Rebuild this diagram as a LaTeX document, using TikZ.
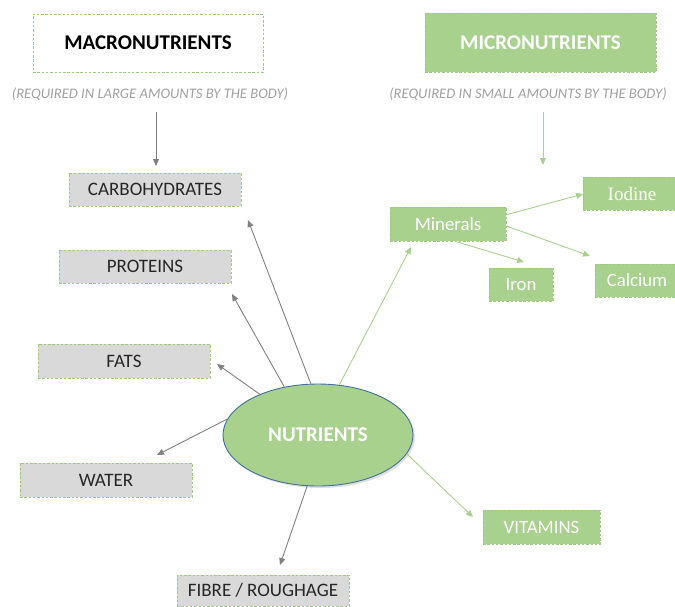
\documentclass[tikz,border=0pt]{standalone}
\usepackage{fontspec}
\setmainfont{Carlito}
\newfontfamily\serifface{Liberation Serif}
\usetikzlibrary{arrows.meta,shapes.geometric,shadows}
\definecolor{leaf}{HTML}{A9D18E}
\definecolor{leafline}{HTML}{9CCB7E}
\definecolor{greybox}{HTML}{D9D9D9}
\definecolor{greyline}{HTML}{808080}
\definecolor{subtext}{HTML}{A0A0A0}
\definecolor{rim}{HTML}{41719C}
\tikzset{
  dashborder/.style={draw=leafline, dash pattern=on 2.5pt off 1.8pt, line width=0.8pt},
  headbox/.style={dashborder, minimum width=230pt, minimum height=58pt, inner sep=0pt,
    font=\fontsize{21}{23}\selectfont\bfseries},
  foodbox/.style={dashborder, fill=greybox, minimum width=172pt, minimum height=33pt,
    inner sep=0pt, text=black!85, font=\fontsize{19}{21}\selectfont},
  minibox/.style={dashborder, fill=leaf, minimum height=33pt, inner sep=0pt,
    text=white, font=\fontsize{18.8}{21}\selectfont},
  subnote/.style={text=subtext, font=\fontsize{14.6}{16}\selectfont\itshape},
  greyarrow/.style={draw=greyline, line width=0.9pt, -{Triangle[length=7pt,width=6pt]}},
  greenarrow/.style={draw=leaf, line width=0.9pt, -{Triangle[length=7pt,width=6pt]}},
}
\begin{document}
\begin{tikzpicture}[x=1pt,y=-1pt]
\clip (0,0) rectangle (675,606);

% headings
\node[headbox, fill=white] (macro) at (148,43) {MACRONUTRIENTS};
\node[headbox, fill=leaf, text=white, minimum width=231pt, minimum height=59pt] (micro) at (540.5,42.5) {MICRONUTRIENTS};
\node[subnote] (subL) at (150,94) {(REQUIRED IN LARGE AMOUNTS BY THE BODY)};
\node[subnote] (subR) at (528,94) {(REQUIRED IN SMALL AMOUNTS BY THE BODY)};

% macronutrient boxes
\node[foodbox] (carb) at (155,189.5) {CARBOHYDRATES};
\node[foodbox] (prot) at (145,266.5) {PROTEINS};
\node[foodbox, minimum height=34pt] (fats) at (124,361) {FATS};
\node[foodbox, minimum height=34pt] (water) at (106,480) {WATER};
\node[foodbox, minimum height=31pt] (fibre) at (263,590.5) {FIBRE / ROUGHAGE};

% central ellipse
\node[ellipse, draw=rim, line width=0.9pt, fill=leaf, minimum width=190pt, minimum height=102pt,
  inner sep=0pt, text=white, font=\fontsize{21}{23}\selectfont\bfseries,
  drop shadow={opacity=0.25, shadow xshift=2pt, shadow yshift=-2pt}] (nut) at (318,435) {NUTRIENTS};

% micronutrient boxes
\node[minibox, minimum width=116pt, minimum height=34pt] (minerals) at (448,224) {Minerals};
\node[minibox, minimum width=98pt, font=\fontsize{19}{21}\selectfont\serifface] (iodine) at (632,193.5) {Iodine};
\node[minibox, minimum width=64pt] (iron) at (521,284.5) {Iron};
\node[minibox, minimum width=84pt, minimum height=33pt] (calcium) at (637,280.5) {Calcium};
\node[minibox, minimum width=117pt, minimum height=34pt] (vit) at (541.5,527) {VITAMINS};

% free arrow ends
\coordinate (lTop) at (156,112);
\coordinate (lTip) at (156,166);
\coordinate (rTop) at (543,112);
\coordinate (rTip) at (543,165);
\coordinate (tCarb) at (248,220);
\coordinate (tProt) at (232,294);
\coordinate (tFats) at (217,364);
\coordinate (tWater) at (157,455);
\coordinate (tFibre) at (280,565);
\coordinate (tMin) at (411,247);
\coordinate (tVit) at (473,517);
\coordinate (tIod) at (583,194);
\coordinate (tCal) at (590,256);
\coordinate (tIron) at (524,262);

% connectors
\draw[greyarrow] (lTop) -- (lTip);
\draw[greenarrow] (rTop) -- (rTip);
\draw[greyarrow] (nut.98.7) -- (tCarb);
\draw[greyarrow] (nut.125.5) -- (tProt);
\draw[greyarrow] (nut.145) -- (tFats);
\draw[greyarrow] (nut.170.7) -- (tWater);
\draw[greyarrow] (nut.258) -- (tFibre);
\draw[greenarrow] (nut.67) -- (tMin);
\draw[greenarrow] (nut.-12) -- (tVit);
\draw[greenarrow] (minerals.9) -- (tIod);
\draw[greenarrow] (minerals.-2) -- (tCal);
\draw[greenarrow] (minerals.-67.6) -- (tIron);
\end{tikzpicture}
\end{document}
